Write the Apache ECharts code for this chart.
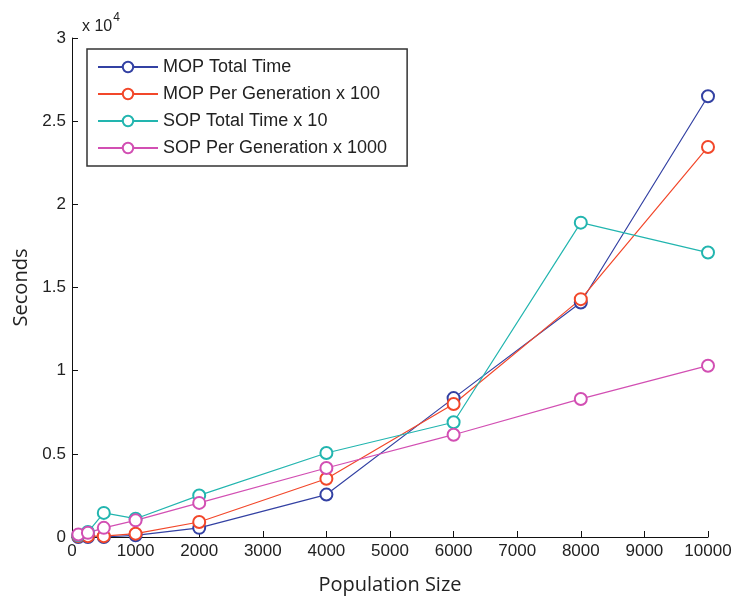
<!DOCTYPE html>
<html>
<head>
<meta charset="utf-8">
<script src="https://cdn.jsdelivr.net/npm/echarts@6/dist/echarts.min.js"></script>
<style>
  html, body { margin: 0; padding: 0; background: #fff; }
  #chart { width: 735px; height: 604px; }
</style>
</head>
<body>
<div id="chart"></div>
<script>
// population sizes (x)
const popSizes = [100, 250, 500, 1000, 2000, 4000, 6000, 8000, 10000]
// seconds, already scaled as in the legend
const mopTotal = [0, 0, 0, 100, 550, 2550, 8350, 14100, 26500]
const mopPerGen = [50, 50, 50, 200, 900, 3500, 8000, 14300, 23450]
const sopTotal = [100, 300, 1450, 1100, 2500, 5050, 6900, 18900, 17100]
const sopPerGen = [150, 250, 550, 1000, 2050, 4150, 6150, 8300, 10300]

const seriesNames = ['MOP Total Time', 'MOP Per Generation x 100', 'SOP Total Time x 10', 'SOP Per Generation x 1000']
const seriesColors = ['#3341a3', '#f2472a', '#22b5af', '#d24fb3']
const seriesData = [mopTotal, mopPerGen, sopTotal, sopPerGen]

const chart = echarts.init(document.getElementById('chart'))
const font = '"Liberation Sans", Arial, sans-serif'
const labelFont = '"Open Sans", "Noto Sans", sans-serif'

const option = {
  animation: false,
  backgroundColor: '#fff',
  title: {
    left: 77,
    top: 7,
    text: '{a|x 10}{b|4}',
    textStyle: {
      fontWeight: 'normal',
      rich: {
        a: { fontFamily: font, fontSize: 16, fontWeight: 'normal', color: '#222', padding: [7, 0, 0, 0] },
        b: { fontFamily: font, fontSize: 12, fontWeight: 'normal', color: '#222', verticalAlign: 'top', padding: [0, 0, 7, 1] }
      }
    }
  },
  legend: {
    orient: 'vertical',
    left: 87,
    top: 49,
    padding: [9, 20, 9, 10],
    itemWidth: 60,
    itemHeight: 13,
    itemGap: 9,
    backgroundColor: '#fff',
    borderColor: '#333',
    borderWidth: 1.5,
    borderRadius: 0,
    textStyle: { fontFamily: font, fontSize: 18, color: '#222' },
    data: seriesNames
  },
  grid: {
    left: 72,
    right: 27,
    top: 38,
    bottom: 67,
    outerBoundsMode: 'none'
  },
  xAxis: {
    type: 'value',
    min: 0,
    max: 10000,
    interval: 1000,
    name: 'Population Size',
    nameLocation: 'middle',
    nameGap: 38,
    nameTextStyle: { fontFamily: labelFont, fontSize: 20, color: '#222' },
    axisLine: { lineStyle: { color: '#111', width: 1 } },
    axisTick: { inside: true, length: 6, lineStyle: { color: '#111' } },
    axisLabel: { fontFamily: font, fontSize: 17, color: '#222', margin: 6, formatter: v => String(v) },
    splitLine: { show: false }
  },
  yAxis: {
    type: 'value',
    min: 0,
    max: 30000,
    interval: 5000,
    name: 'Seconds',
    nameLocation: 'middle',
    nameGap: 40,
    nameTextStyle: { fontFamily: labelFont, fontSize: 20, color: '#222' },
    axisLine: { show: true, lineStyle: { color: '#111', width: 1 } },
    axisTick: { show: true, inside: true, length: 6, lineStyle: { color: '#111' } },
    axisLabel: {
      fontFamily: font, fontSize: 17, color: '#222', margin: 6,
      formatter: v => String(v / 10000)
    },
    splitLine: { show: false }
  },
  series: seriesNames.map((name, i) => ({
    name: name,
    type: 'line',
    symbol: 'emptyCircle',
    symbolSize: 12,
    color: seriesColors[i],
    lineStyle: { width: 1.2 },
    itemStyle: { borderWidth: 1.2 },
    data: popSizes.map((x, k) => [x, seriesData[i][k]])
  }))
}

chart.setOption(option)
</script>
</body>
</html>
